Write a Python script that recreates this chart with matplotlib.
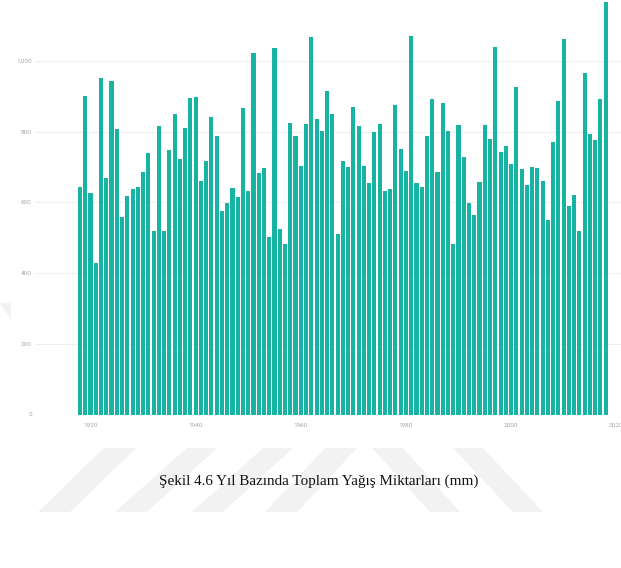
import matplotlib
matplotlib.use("Agg")
import matplotlib.pyplot as plt
from matplotlib.patches import Polygon

W, H = 621, 568

years = list(range(1918, 2019))
rainfall = [
    643, 901, 626, 428, 951, 670, 943, 807, 558, 617,
    637, 645, 685, 741, 518, 817, 518, 749, 851, 723,
    811, 894, 898, 661, 716, 842, 787, 576, 597, 641,
    615, 867, 633, 1024, 684, 697, 502, 1036, 525, 483,
    825, 789, 703, 821, 1068, 837, 803, 916, 851, 512,
    718, 701, 871, 816, 702, 655, 798, 821, 631, 639,
    875, 752, 688, 1072, 656, 644, 787, 893, 685, 880,
    801, 482, 820, 728, 598, 565, 659, 818, 779, 1041,
    742, 760, 708, 926, 695, 649, 701, 697, 660, 550,
    771, 886, 1061, 590, 622, 519, 966, 794, 776, 892,
    1167,
]
y_ticks = [0, 200, 400, 600, 800, 1000]
y_labels = ["0", "200", "400", "600", "800", "1,000"]
x_ticks = [1920, 1940, 1960, 1980, 2000, 2020]
caption = "Şekil 4.6 Yıl Bazında Toplam Yağış Miktarları (mm)"

BAR = "#17b3a3"
GRID = "#efefef"
TICK = "#a8a8a8"
MARK = "#f2f2f2"


def px(x, y):
    return (x / W, 1 - y / H)


fig = plt.figure(figsize=(W / 100, H / 100), dpi=100)
fig.patch.set_facecolor("white")

# faint page watermark stripes under the chart
stripes = [
    [(38, 512), (70, 512), (136, 448), (104, 448)],
    [(115, 512), (147, 512), (217, 448), (187, 448)],
    [(192, 512), (223, 512), (293, 448), (263, 448)],
    [(265, 512), (297, 512), (357, 448), (325, 448)],
    [(430, 512), (460, 512), (403, 448), (372, 448)],
    [(513, 512), (543, 512), (483, 448), (453, 448)],
    [(0, 303), (11, 303), (11, 320)],
]
for pts in stripes:
    fig.add_artist(Polygon([px(x, y) for x, y in pts], closed=True,
                           transform=fig.transFigure, facecolor=MARK,
                           edgecolor="none", zorder=0))

ax_left, ax_bottom = 36, 414.5
ax = fig.add_axes([ax_left / W, 1 - ax_bottom / H, 1 - ax_left / W, ax_bottom / H])
ax.set_facecolor("none")

ax.bar(years, rainfall, width=0.78, color=BAR, zorder=3)

ax.set_xlim(1909.63, 2020.91)
ax.set_ylim(0, 1172.6)
ax.set_yticks(y_ticks)
ax.set_yticklabels(y_labels)
ax.set_xticks(x_ticks)
ax.set_xticklabels([str(x) for x in x_ticks])
ax.yaxis.grid(True, color=GRID, linewidth=0.8, zorder=0)
ax.set_axisbelow(True)
for side in ax.spines.values():
    side.set_visible(False)
ax.tick_params(length=0, colors=TICK, labelsize=4.6)
ax.tick_params(axis="y", pad=3)
ax.tick_params(axis="x", pad=6)
for label in ax.get_xticklabels() + ax.get_yticklabels():
    label.set_family(["Roboto", "DejaVu Sans"])

fig.text(319 / W, 1 - 481 / H, caption, ha="center", va="center",
         fontsize=10.9, color="#111111", family=["Liberation Serif", "DejaVu Serif"])

fig.savefig("out.png", dpi=100)
